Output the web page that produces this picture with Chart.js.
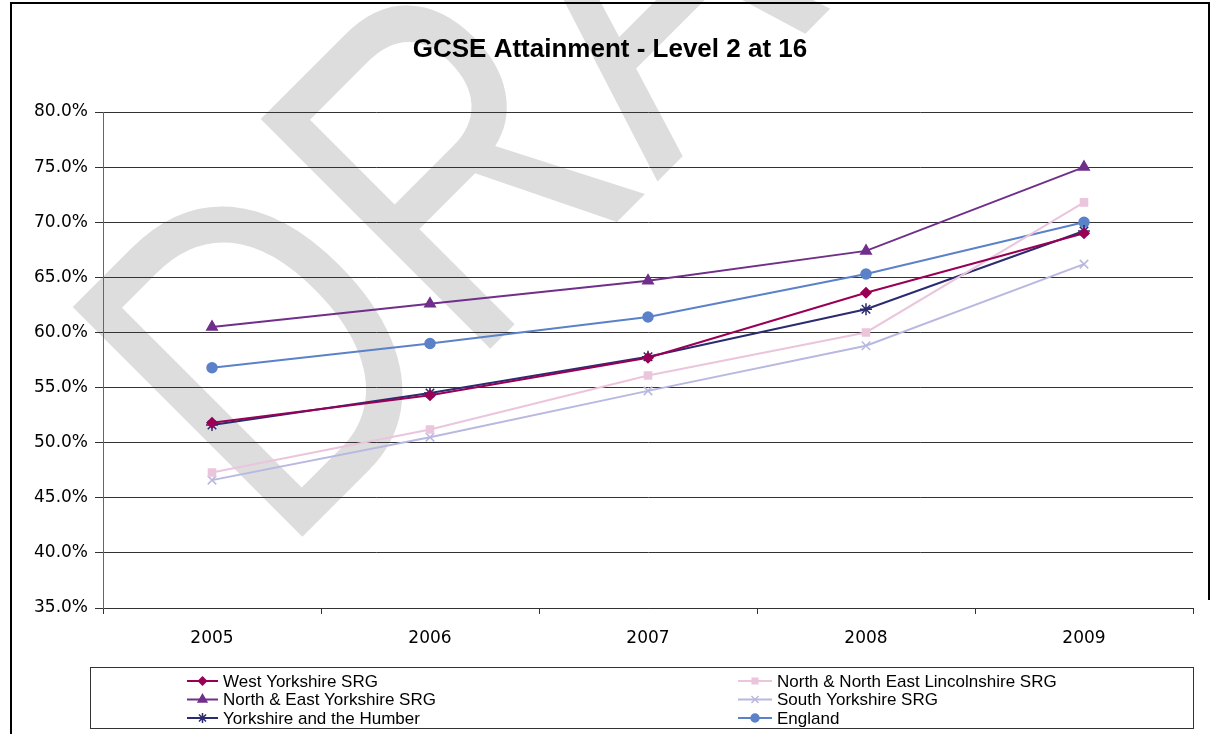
<!DOCTYPE html>
<html>
<head>
<meta charset="utf-8">
<title>GCSE Attainment - Level 2 at 16</title>
<script src="https://cdn.jsdelivr.net/npm/chart.js@4.4.1/dist/chart.umd.min.js"></script>
<style>
  html, body { margin: 0; padding: 0; background: #fff; }
  #chart { display: block; }
</style>
</head>
<body>
<canvas id="chart" width="1212" height="734"></canvas>
<script>
// GCSE attainment chart

const chartTitle = 'GCSE Attainment - Level 2 at 16';
const years = ['2005', '2006', '2007', '2008', '2009'];

const westYorkshire = [51.8, 54.3, 57.7, 63.6, 69.0];
const northLincs = [47.3, 51.2, 56.1, 60.0, 71.8];
const northEastYorkshire = [60.5, 62.6, 64.7, 67.4, 75.0];
const southYorkshire = [46.6, 50.5, 54.7, 58.8, 66.2];
const yorkshireHumber = [51.6, 54.5, 57.8, 62.1, 69.2];
const england = [56.8, 59.0, 61.4, 65.3, 70.0];

const seriesNames = [
    'West Yorkshire SRG',
    'North & North East Lincolnshire SRG',
    'North & East Yorkshire SRG',
    'South Yorkshire SRG',
    'Yorkshire and the Humber',
    'England'
];
const seriesValues = [westYorkshire, northLincs, northEastYorkshire, southYorkshire, yorkshireHumber, england];
const seriesColors = ['#990055', '#ebc5dc', '#702f8a', '#b8b8e0', '#2b2b70', '#5b82c8'];
const seriesMarkers = ['rectRot', 'rect', 'triangle', 'crossRot', 'star', 'circle'];
const markerSizes = [5, 5, 6, 6, 6, 5];

const yMin = 35, yMax = 80, yStep = 5;

const tickFont = { family: '"DejaVu Sans", sans-serif', size: 17 };

// background + DRAFT watermark behind everything
const watermarkPlugin = {
    id: 'watermark',
    beforeDraw(chart) {
        const ctx = chart.ctx;
        ctx.save();
        ctx.fillStyle = '#ffffff';
        ctx.fillRect(0, 0, chart.width, chart.height);
        ctx.translate(281, 558);
        ctx.rotate(-Math.PI / 4);
        ctx.scale(0.78, 1);
        ctx.fillStyle = '#dddddd';
        ctx.font = '472px "Liberation Sans", Arial, sans-serif';
        ctx.textBaseline = 'alphabetic';
        ctx.textAlign = 'left';
        ctx.fillText('DRAFT', 0, 0);
        ctx.restore();
    }
};

// title, outer frame and the boxed two-column legend
const framePlugin = {
    id: 'frame',
    afterDraw(chart) {
        const ctx = chart.ctx;
        ctx.save();

        ctx.fillStyle = '#000';
        ctx.font = 'bold 26px "Liberation Sans", Arial, sans-serif';
        ctx.textAlign = 'center';
        ctx.textBaseline = 'middle';
        ctx.fillText(chartTitle, 610, 50);

        ctx.strokeStyle = '#000';
        ctx.lineWidth = 2;
        ctx.beginPath();
        ctx.moveTo(11, 734);
        ctx.lineTo(11, 3);
        ctx.lineTo(1209, 3);
        ctx.lineTo(1209, 600);
        ctx.stroke();

        ctx.lineWidth = 1;
        ctx.strokeStyle = '#333';
        ctx.strokeRect(90.5, 667.5, 1103, 61);

        const colLine = [[187, 218], [738, 772]];
        const colText = [223, 777];
        const rowY = [681, 699.5, 718];
        ctx.font = '17px "Liberation Sans", Arial, sans-serif';
        ctx.textAlign = 'left';
        ctx.textBaseline = 'middle';
        chart.data.datasets.forEach((ds, i) => {
            const col = i % 2, row = Math.floor(i / 2);
            const y = rowY[row];
            ctx.strokeStyle = ds.borderColor;
            ctx.lineWidth = 2;
            ctx.beginPath();
            ctx.moveTo(colLine[col][0], y);
            ctx.lineTo(colLine[col][1], y);
            ctx.stroke();
            const mx = (colLine[col][0] + colLine[col][1]) / 2;
            ctx.fillStyle = ds.pointBackgroundColor;
            ctx.strokeStyle = ds.pointBorderColor;
            ctx.lineWidth = 1.5;
            Chart.helpers.drawPoint(ctx, {
                pointStyle: ds.pointStyle,
                radius: ds.pointRadius - 1,
                rotation: 0,
                borderWidth: 1.5
            }, mx, y);
            ctx.fillStyle = '#000';
            ctx.fillText(ds.label, colText[col], y + 1);
        });

        ctx.restore();
    }
};

const datasets = seriesNames.map((name, i) => ({
    label: name,
    data: seriesValues[i],
    borderColor: seriesColors[i],
    backgroundColor: seriesColors[i],
    pointBackgroundColor: seriesColors[i],
    pointBorderColor: seriesColors[i],
    pointStyle: seriesMarkers[i],
    pointRadius: markerSizes[i],
    pointBorderWidth: 1.5,
    borderWidth: 2,
    tension: 0,
    fill: false
}));

new Chart(document.getElementById('chart').getContext('2d'), {
    type: 'line',
    data: { labels: years, datasets: datasets },
    options: {
        responsive: false,
        animation: false,
        devicePixelRatio: 1,
        layout: { padding: { left: 0, right: 19, top: 112, bottom: 80 } },
        plugins: {
            legend: { display: false },
            title: { display: false },
            tooltip: { enabled: false }
        },
        scales: {
            x: {
                type: 'category',
                offset: true,
                grid: { offset: true, drawOnChartArea: false, tickLength: 6, color: '#333' },
                border: { display: true, color: '#333', width: 1 },
                ticks: { color: '#000', font: tickFont, padding: 14, maxRotation: 0 },
                afterFit(scale) { scale.height = 46; }
            },
            y: {
                min: yMin,
                max: yMax,
                grid: { color: '#333', tickLength: 8, lineWidth: 1 },
                border: { display: true, color: '#666', width: 1 },
                ticks: {
                    stepSize: yStep,
                    color: '#000',
                    font: tickFont,
                    padding: 7,
                    callback: v => v.toFixed(1) + '%'
                },
                afterFit(scale) { scale.width = 103; }
            }
        }
    },
    plugins: [watermarkPlugin, framePlugin]
});
</script>
</body>
</html>
